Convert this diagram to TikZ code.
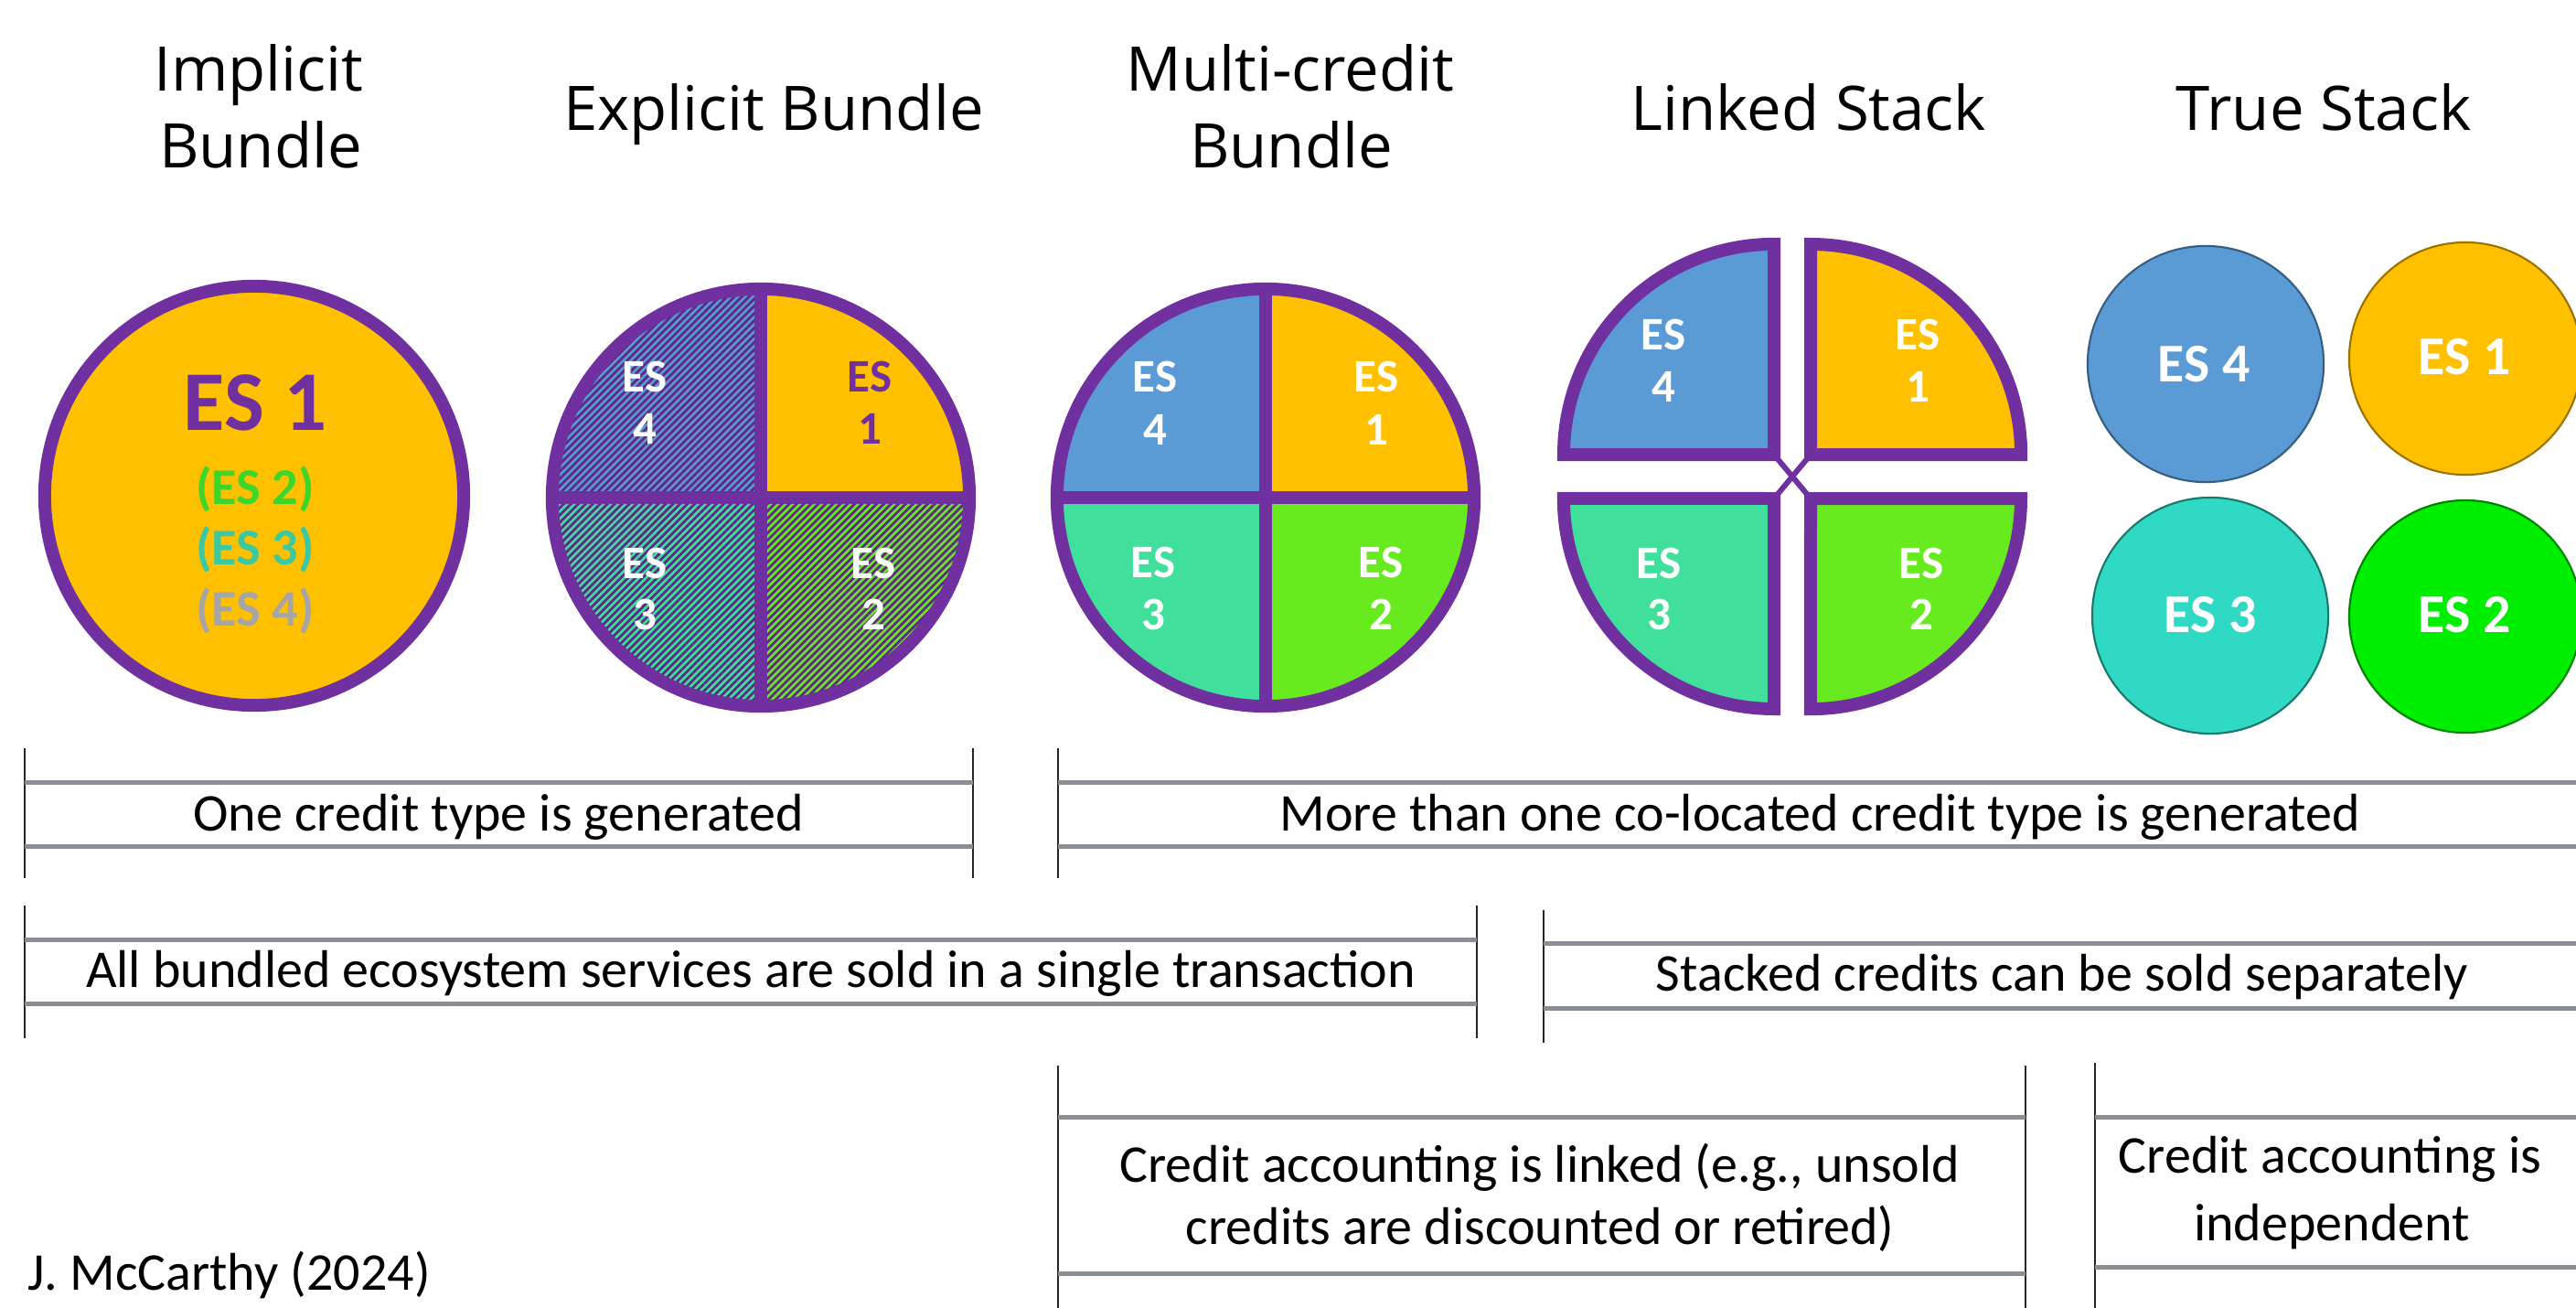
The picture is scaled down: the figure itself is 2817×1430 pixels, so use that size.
\documentclass[tikz,border=0pt]{standalone}
\usepackage{fontspec}
\setmainfont{Carlito}
\newfontfamily\titlefont{Open Sans}
\usetikzlibrary{patterns.meta}
\definecolor{purp}{HTML}{7030A0}
\definecolor{orng}{HTML}{FFC000}
\definecolor{blu}{HTML}{5B9BD5}
\definecolor{tealq}{HTML}{40E09C}
\definecolor{grnq}{HTML}{67EB1F}
\definecolor{turq}{HTML}{2FD9C4}
\definecolor{grnt}{HTML}{00EE00}
\definecolor{barline}{HTML}{8A8F96}
\definecolor{gtxt}{HTML}{3ED62A}
\definecolor{ttxt}{HTML}{3CC8A0}
\definecolor{stxt}{HTML}{A6A6A6}
\tikzset{
  ttl/.style={font=\titlefont\fontsize{19.1pt}{23.6pt}\selectfont, inner sep=0pt, anchor=base},
  body/.style={font=\fontsize{16.5pt}{19.5pt}\selectfont, inner sep=0pt, anchor=base},
  qlab/.style={font=\bfseries\fontsize{14.5pt}{17pt}\selectfont, text=white, inner sep=0pt, anchor=base},
  tlab/.style={font=\bfseries\fontsize{17pt}{20pt}\selectfont, text=white, inner sep=0pt, anchor=base},
  hbar/.style={draw=barline, line width=1.42pt},
  vbar/.style={draw=black!85, line width=0.7pt},
  ring/.style={draw=purp, line width=3.98pt},
  hatch/.style={postaction={pattern={Lines[angle=45,distance=1.6pt,line width=0.8pt]}, pattern color=purp!85!black}},
}
\begin{document}
\begin{tikzpicture}[x=0.01cm,y=-0.01cm,line join=miter]
\fill[white] (0,0) rectangle (2817,1430);
\useasboundingbox (0,0) rectangle (2817,1430);

% ---------- titles ----------
\node[ttl] (t1a) at (283,100) {Implicit};
\node[ttl] (t1b) at (285,183) {Bundle};
\node[ttl] (t2) at (846,142) {Explicit Bundle};
\node[ttl] (t3a) at (1411,100) {Multi-credit};
\node[ttl] (t3b) at (1412,183) {Bundle};
\node[ttl] (t4) at (1978,142) {Linked Stack};
\node[ttl] (t5) at (2541,142) {True Stack};

% ---------- implicit bundle ----------
\draw[ring, fill=orng] (278,542) circle[radius=2.29cm];
\node[anchor=base, inner sep=0pt, font=\bfseries\fontsize{26.4pt}{30pt}\selectfont, text=purp] (i1) at (279,470) {ES 1};
\node[anchor=base, inner sep=0pt, font=\bfseries\fontsize{16pt}{19pt}\selectfont, text=gtxt] (i2) at (279,551) {(ES 2)};
\node[anchor=base, inner sep=0pt, font=\bfseries\fontsize{16pt}{19pt}\selectfont, text=ttxt] (i3) at (279,617) {(ES 3)};
\node[anchor=base, inner sep=0pt, font=\bfseries\fontsize{16pt}{19pt}\selectfont, text=stxt] (i4) at (279,684) {(ES 4)};

% ---------- explicit bundle ----------
\path[fill=blu, hatch] (832,544) -- (604,544) arc[start angle=180,end angle=90,radius=2.28cm] -- cycle;
\path[fill=orng] (832,544) -- (832,316) arc[start angle=90,end angle=0,radius=2.28cm] -- cycle;
\path[fill=grnq, hatch] (832,544) -- (1060,544) arc[start angle=0,end angle=-90,radius=2.28cm] -- cycle;
\path[fill=tealq, hatch] (832,544) -- (832,772) arc[start angle=270,end angle=180,radius=2.28cm] -- cycle;
\draw[ring] (832,316) -- (832,772);
\draw[ring] (604,544) -- (1060,544);
\draw[ring] (832,544) circle[radius=2.28cm];
\node[qlab] (e4a) at (705,428) {ES};
\node[qlab] (e4b) at (705,485) {4};
\node[qlab, text=purp] (e1a) at (951,428) {ES};
\node[qlab, text=purp] (e1b) at (951,485) {1};
\node[qlab] (e3a) at (705,632) {ES};
\node[qlab] (e3b) at (705,688) {3};
\node[qlab] (e2a) at (955,632) {ES};
\node[qlab] (e2b) at (955,688) {2};

% ---------- multi-credit bundle ----------
\path[fill=blu] (1384,544) -- (1156,544) arc[start angle=180,end angle=90,radius=2.28cm] -- cycle;
\path[fill=orng] (1384,544) -- (1384,316) arc[start angle=90,end angle=0,radius=2.28cm] -- cycle;
\path[fill=grnq] (1384,544) -- (1612,544) arc[start angle=0,end angle=-90,radius=2.28cm] -- cycle;
\path[fill=tealq] (1384,544) -- (1384,772) arc[start angle=270,end angle=180,radius=2.28cm] -- cycle;
\draw[ring] (1384,316) -- (1384,772);
\draw[ring] (1156,544) -- (1612,544);
\draw[ring] (1384,544) circle[radius=2.28cm];
\node[qlab] (m4a) at (1263,428) {ES};
\node[qlab] (m4b) at (1263,486) {4};
\node[qlab] (m1a) at (1505,428) {ES};
\node[qlab] (m1b) at (1505,486) {1};
\node[qlab] (m3a) at (1261,631) {ES};
\node[qlab] (m3b) at (1261,688) {3};
\node[qlab] (m2a) at (1510,631) {ES};
\node[qlab] (m2b) at (1510,688) {2};

% ---------- linked stack ----------
\draw[purp, line width=1.7pt] (1940,497) -- (1980,545);
\draw[purp, line width=1.7pt] (1980,497) -- (1940,545);
\draw[ring, fill=blu] (1940,497) -- (1710,497) arc[start angle=180,end angle=90,radius=2.30cm] -- cycle;
\draw[ring, fill=orng] (1980,497) -- (1980,267) arc[start angle=90,end angle=0,radius=2.30cm] -- cycle;
\draw[ring, fill=grnq] (1980,545) -- (2210,545) arc[start angle=0,end angle=-90,radius=2.30cm] -- cycle;
\draw[ring, fill=tealq] (1940,545) -- (1940,775) arc[start angle=270,end angle=180,radius=2.30cm] -- cycle;
\node[qlab] (l4a) at (1819,382) {ES};
\node[qlab] (l4b) at (1819,439) {4};
\node[qlab] (l1a) at (2097,382) {ES};
\node[qlab] (l1b) at (2097,439) {1};
\node[qlab] (l3a) at (1814,632) {ES};
\node[qlab] (l3b) at (1814,688) {3};
\node[qlab] (l2a) at (2101,632) {ES};
\node[qlab] (l2b) at (2101,688) {2};

% ---------- true stack ----------
\draw[draw=blu!60!black, line width=0.6pt, fill=blu] (2412,398) circle[radius=1.29cm];
\draw[draw=orng!60!black, line width=0.6pt, fill=orng] (2696,392) circle[radius=1.27cm];
\draw[draw=turq!55!black, line width=0.6pt, fill=turq] (2417,673) circle[radius=1.29cm];
\draw[draw=grnt!55!black, line width=0.6pt, fill=grnt] (2696,674) circle[radius=1.27cm];
\node[tlab] (s4) at (2410,417) {ES 4};
\node[tlab] (s1) at (2695,409) {ES 1};
\node[tlab] (s3) at (2417,691) {ES 3};
\node[tlab] (s2) at (2695,691) {ES 2};

% ---------- brackets ----------
% A
\draw[vbar] (27,818) -- (27,960);
\draw[vbar] (1064,818) -- (1064,960);
\draw[hbar] (27,855) -- (1064,855);
\draw[hbar] (27,925) -- (1064,925);
\node[body] (ta) at (545,908) {One credit type is generated};
% B
\draw[vbar] (1157,818) -- (1157,960);
\draw[hbar] (1157,855) -- (2830,855);
\draw[hbar] (1157,925) -- (2830,925);
\node[body] (tb) at (1990,908) {More than one co-located credit type is generated};
% C
\draw[vbar] (27,990) -- (27,1135);
\draw[vbar] (1615,990) -- (1615,1135);
\draw[hbar] (27,1027) -- (1615,1027);
\draw[hbar] (27,1097) -- (1615,1097);
\node[body] (tc) at (821,1079) {All bundled ecosystem services are sold in a single transaction};
% D
\draw[vbar] (1688,995) -- (1688,1140);
\draw[hbar] (1688,1031) -- (2830,1031);
\draw[hbar] (1688,1102) -- (2830,1102);
\node[body] (td) at (2255,1083) {Stacked credits can be sold separately};
% E
\draw[vbar] (1157,1165) -- (1157,1440);
\draw[vbar] (2215,1165) -- (2215,1440);
\draw[hbar] (1157,1221) -- (2215,1221);
\draw[hbar] (1157,1392) -- (2215,1392);
\node[body] (te1) at (1684,1292) {Credit accounting is linked (e.g., unsold};
\node[body] (te2) at (1684,1360) {credits are discounted or retired)};
% F
\draw[vbar] (2291,1162) -- (2291,1440);
\draw[hbar] (2291,1221) -- (2830,1221);
\draw[hbar] (2291,1385) -- (2830,1385);
\node[body] (tf1) at (2548,1282) {Credit accounting is};
\node[body] (tf2) at (2550,1356) {independent};

% footer
\node[body, anchor=base west] (foot) at (30,1410) {J. McCarthy (2024)};
\end{tikzpicture}
\end{document}
